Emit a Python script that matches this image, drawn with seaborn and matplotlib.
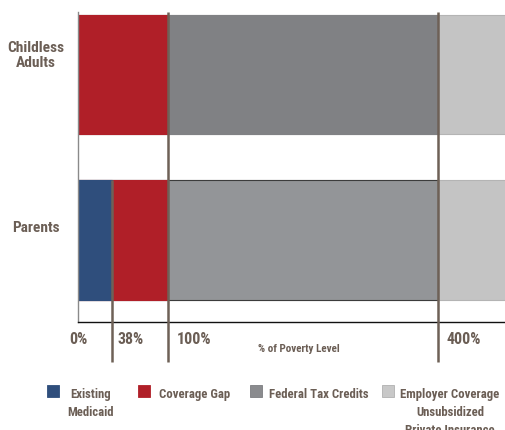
import matplotlib
matplotlib.use("Agg")
import matplotlib.pyplot as plt
import matplotlib.patches as mpatches
from matplotlib import font_manager as fm
import pandas as pd
import seaborn as sns

sns.set_theme(style="white")

# Prefer a condensed sans face for the labels
_names = {f.name for f in fm.fontManager.ttflist}
_stretch = "normal"
FONT = "DejaVu Sans"
for cand in ["Liberation Sans Narrow", "Roboto Condensed", "Open Sans Condensed",
             "DejaVu Sans Condensed", "Noto Sans Condensed"]:
    if cand in _names:
        FONT = cand
        break
else:
    if any(f.name == "DejaVu Sans" and f.stretch in ("condensed", 500, "semi-condensed")
           for f in fm.fontManager.ttflist):
        _stretch = "condensed"
plt.rcParams["font.family"] = [FONT, "DejaVu Sans"]
plt.rcParams["font.stretch"] = _stretch
plt.rcParams["font.weight"] = "bold"

# Income ranges (% of poverty level) covered by each program
groups = ["Childless\nAdults", "Parents"]
existing_medicaid = [0, 38]
coverage_gap = [100, 62]
federal_tax_credits = [300, 300]
employer_coverage = [100, 100]

tick_values = [0, 38, 100, 400]
tick_labels = ["0%", "38%", "100%", "400%"]
axis_title = "% of Poverty Level"
legend_labels = ["Existing\nMedicaid", "Coverage Gap", "Federal Tax Credits",
                 "Employer Coverage\nUnsubsidized\nPrivate Insurance"]

TEXT = "#6b5e55"
LINE = "#6e6157"
BLUE = "#2f4e7c"
RED = "#b01f28"
GRAY_A = "#808184"
GRAY_P = "#939598"
LIGHT = "#c4c4c4"

df = pd.DataFrame({
    "group": groups,
    "medicaid": existing_medicaid,
    "gap": coverage_gap,
    "tax": federal_tax_credits,
    "employer": employer_coverage,
})
df["end_medicaid"] = df["medicaid"]
df["end_gap"] = df["end_medicaid"] + df["gap"]
df["end_tax"] = df["end_gap"] + df["tax"]
df["end_employer"] = df["end_tax"] + df["employer"]

W, H = 505, 431
fig = plt.figure(figsize=(W / 100, H / 100), dpi=100)
renderer = fig.canvas.get_renderer()

# Scale font sizes so the condensed look is kept with whatever face is available
_probe = fig.text(0, 0, "Childless", fontsize=12.5, fontweight="bold")
_w = _probe.get_window_extent(renderer).width
_probe.remove()
FS = min(1.0, 57.0 / _w)

ax_left, ax_right, ax_top, ax_bottom = 78, 505, 13, 323
ax = fig.add_axes([ax_left / W, 1 - ax_bottom / H,
                   (ax_right - ax_left) / W, (ax_bottom - ax_top) / H])

bw = 0.72
layers = [
    ("end_employer", [LIGHT, LIGHT], ["#b4b4b4", "#b4b4b4"]),
    ("end_tax", [GRAY_A, GRAY_P], [GRAY_A, "#3c3c3c"]),
    ("end_gap", [RED, RED], [RED, RED]),
    ("end_medicaid", [BLUE, BLUE], [BLUE, BLUE]),
]
for col, colors, edges in layers:
    n_before = len(ax.patches)
    sns.barplot(data=df, x=col, y="group", hue="group", palette=colors,
                orient="h", width=bw, legend=False, ax=ax, saturation=1,
                linewidth=0.8)
    for p, ec in zip(ax.patches[n_before:], edges):
        p.set_edgecolor(ec)

px_per_pct = 90 / 100
ax.set_xlim(0, (ax_right - ax_left) / px_per_pct)
ax.set_ylim(1 + 0.495, -0.378)

ax.set_xlabel("")
ax.set_ylabel("")
ax.set_xticks([])
ax.set_yticks([])
for s in ["top", "right"]:
    ax.spines[s].set_visible(False)
ax.spines["left"].set_color("#8a8a8a")
ax.spines["left"].set_linewidth(1.0)
ax.spines["bottom"].set_color("#111111")
ax.spines["bottom"].set_linewidth(1.0)


def fy(py):
    return 1 - py / H


def fx(px):
    return px / W


# Row labels (set slightly above each bar's centre)
row_label_y = [55.5, 227.5]
for g, py in zip(groups, row_label_y):
    fig.text(fx(36), fy(py), g, ha="center", va="center",
             fontsize=12.5 * FS, color=TEXT, fontweight="bold",
             linespacing=1.1)

# Threshold lines
xt = ax.get_xaxis_transform()
span = ax_bottom - ax_top
low = -(363 - ax_bottom) / span
for v in tick_values[1:]:
    top = 1.0
    if v == 38:
        top = (ax_bottom - 181) / span
    ax.plot([v, v], [low, top], transform=xt, color=LINE, lw=1.8,
            clip_on=False, solid_capstyle="butt", zorder=5)

# Tick labels
tick_y = -(340 - ax_bottom) / span
for v, lab in zip(tick_values, tick_labels):
    if v == 0:
        ax.text(v + 1, tick_y, lab, transform=xt, ha="center", va="center",
                fontsize=13 * FS, color=TEXT, fontweight="bold")
    else:
        off = 5 if v == 38 else 8.5
        ax.text(v + off / px_per_pct, tick_y, lab, transform=xt, ha="left",
                va="center", fontsize=13 * FS, color=TEXT, fontweight="bold")

fig.text(fx(299), fy(349.5), axis_title, ha="center", va="center",
         fontsize=9 * FS, color=TEXT, fontweight="bold")

# Legend: swatches with centred multi-line captions
legend_colors = [(BLUE, BLUE), (RED, RED), ("#8a8b8e", "#7c7d80"),
                 ("#c8c8c8", "#b0b0b0")]
swatch_x = [47, 138, 250, 382]
caption_x = [91, 194.5, 318.5, 450]
for lab, (fc, ec), sx, cx in zip(legend_labels, legend_colors, swatch_x, caption_x):
    fig.add_artist(mpatches.Rectangle((fx(sx), fy(397.5)), 12 / W, 12 / H,
                                      transform=fig.transFigure,
                                      facecolor=fc, edgecolor=ec, lw=0.6))
    for k, line in enumerate(lab.split("\n")):
        fig.text(fx(cx), fy(398.5 + 18 * k), line, ha="center", va="baseline",
                 fontsize=10.3 * FS, color=TEXT, fontweight="bold")

fig.savefig("out.png", dpi=100)
